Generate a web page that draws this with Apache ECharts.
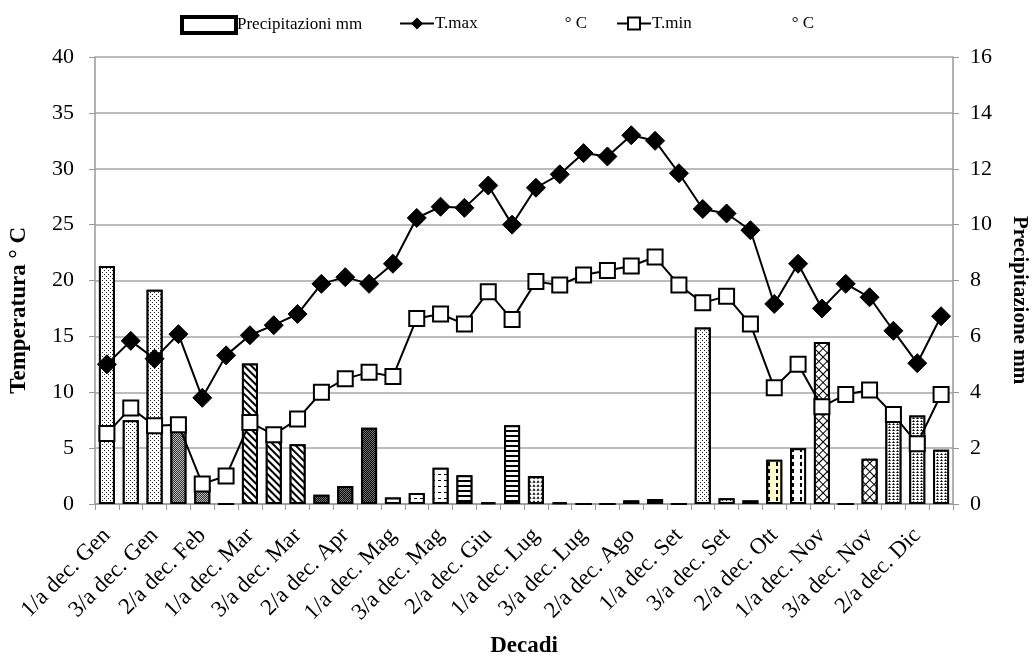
<!DOCTYPE html>
<html><head><meta charset="utf-8">
<script src="https://cdn.jsdelivr.net/npm/echarts@6/dist/echarts.min.js"></script>
<style>html,body{margin:0;padding:0;background:#fff}#c{width:1036px;height:663px}</style>
</head><body><div id="c"></div>
<script>
var months = ['Gen','Feb','Mar','Apr','Mag','Giu','Lug','Ago','Set','Ott','Nov','Dic'];
var categories = [];
months.forEach(function(m){ ['1/a','2/a','3/a'].forEach(function(d){ categories.push(d + ' dec. ' + m); }); });

var tmax = [12.5,14.6,13.0,15.2,9.5,13.3,15.1,16.0,17.0,19.7,20.3,19.7,21.5,25.6,26.6,26.5,28.5,25.0,28.3,29.5,31.4,31.1,33.0,32.5,29.6,26.4,26.0,24.5,17.9,21.5,17.5,19.7,18.5,15.5,12.6,16.8];
var tmin = [6.3,8.6,7.0,7.1,1.8,2.5,7.3,6.2,7.6,10.0,11.2,11.8,11.4,16.6,17.0,16.1,19.0,16.5,19.9,19.6,20.5,20.9,21.3,22.1,19.6,18.0,18.6,16.1,10.4,12.5,8.7,9.8,10.2,8.0,5.4,9.8];
var precip = [8.52,3.0,7.67,2.79,0.6,0,5.03,2.26,2.14,0.33,0.64,2.73,0.23,0.39,1.3,1.03,0.06,2.82,1.0,0.06,0,0,0.13,0.18,0,6.32,0.21,0.13,1.58,2.0,5.8,0,1.62,3.23,3.17,1.94];

var leftTicks = {min:0, max:40, interval:5};
var rightTicks = {min:0, max:16, interval:2};

var FONT = '"Liberation Serif","Times New Roman",serif';
var CLEAR = 'rgba(0,0,0,0)';

var decals = {
  dots: {symbol:'rect', symbolSize:1, dashArrayX:[[1,3],[0,2,1,1]], dashArrayY:[1,1], color:'#222', backgroundColor:'#fff'},
  dense:{symbol:'rect', symbolSize:1, dashArrayX:[[1,1],[0,1,1,0]], dashArrayY:[1,0], color:'#333', backgroundColor:'#bbb'},
  diag: {symbol:'rect', symbolSize:1, dashArrayX:[1,0], dashArrayY:[1.5,2.5], rotation:Math.PI/4, color:'#000', backgroundColor:'#fff'},
  darkdots:{symbol:'rect', symbolSize:1, dashArrayX:[[1,1],[0,1,1,0]], dashArrayY:[1,0], color:'#000', backgroundColor:'#777'},
  hdash:{symbol:'rect', symbolSize:1, dashArrayX:[3,3], dashArrayY:[1,5], color:'#000', backgroundColor:'#fff'},
  hline:{symbol:'rect', symbolSize:1, dashArrayX:[1,0], dashArrayY:[1.5,3], color:'#000', backgroundColor:'#fff'},
  chevron:{symbol:'triangle', symbolSize:0.8, dashArrayX:[4,0], dashArrayY:[3,1], color:'#000', backgroundColor:'#fff'},
  vdash:{symbol:'rect', symbolSize:1, dashArrayX:[1.5,6], dashArrayY:[4,3], color:'#000', backgroundColor:'#fffccc'},
  vdashW:{symbol:'rect', symbolSize:1, dashArrayX:[1.5,6], dashArrayY:[4,3], color:'#000', backgroundColor:'#fff'},
  cross:{symbol:'rect', symbolSize:1, dashArrayX:[1,0], dashArrayY:[1,4.5], rotation:Math.PI/4, color:'#000', backgroundColor:'#fff'},
  cross2:{symbol:'rect', symbolSize:1, dashArrayX:[1,0], dashArrayY:[1,4.5], rotation:-Math.PI/4, color:'#000', backgroundColor:CLEAR},
  zigzag:{symbol:'triangle', symbolSize:1, dashArrayX:[3,1], dashArrayY:[2,1], color:'#000', backgroundColor:'#fff'}
};
var monthDecal = ['dots','dense','diag','darkdots','hdash','hline','chevron','hline','dots','vdash','cross','zigzag'];

var barData = precip.map(function(v,i){
  var m = Math.floor(i/3);
  var key = monthDecal[m];
  if (i===29) key = 'vdashW';
  return {value:v, itemStyle:{color: i===28 ? '#fffccc' : '#fff', borderColor:'#000', borderWidth:2, decal: decals[key]}};
});
// second hatch direction for cross-hatched (November) bars
var hatchData = precip.map(function(v,i){
  return Math.floor(i/3) === 10 ? {value:v, itemStyle:{color:CLEAR, borderWidth:0, decal:decals.cross2}} : '-';
});

var chart = echarts.init(document.getElementById('c'), null, {renderer:'canvas'});
var nameTmax = 'T.max ° C';
var nameTmin = 'T.min ° C';
function legendFmt(name){
  var p = name.split(' ');
  return '{n|' + p[0] + '}{u|' + p.slice(1).join(' ') + '}';
}
var legendText = {fontFamily:FONT, fontSize:17, color:'#000', padding:[0,0,0,-4],
  rich:{n:{fontFamily:FONT, fontSize:17, color:'#000'}, u:{fontFamily:FONT, fontSize:17, color:'#000', padding:[0,0,0,87]}}};
chart.setOption({
  animation:false,
  backgroundColor:'#fff',
  textStyle:{fontFamily:FONT},
  legend:[
    {data:[{name:'Precipitazioni mm', icon:'rect', itemStyle:{color:'#fff', borderColor:'#000', borderWidth:4, decal:'none'}}], left:175, top:10, itemWidth:54, itemHeight:16,
     textStyle:{fontFamily:FONT, fontSize:17, color:'#000', padding:[0,0,0,-4]}},
    {data:[nameTmax], left:394, top:10, itemWidth:34, itemHeight:15, formatter:legendFmt, textStyle:legendText},
    {data:[nameTmin], left:611, top:10, itemWidth:34, itemHeight:15, formatter:legendFmt,
     textStyle:Object.assign({}, legendText, {rich:{n:legendText.rich.n, u:{fontFamily:FONT, fontSize:17, color:'#000', padding:[0,0,0,100]}}})}
  ],
  graphic:[
    {type:'text', left:8, top:227, rotation:Math.PI/2, style:{text:'Temperatura ° C', font:'bold 23px ' + FONT, fill:'#000'}, silent:true},
    {type:'text', x:1030, y:216, rotation:-Math.PI/2, style:{text:'Precipitazione mm', font:'bold 21px ' + FONT, fill:'#000'}, silent:true}
  ],
  grid:{left:95, right:83, top:57, bottom:150, containLabel:false},
  xAxis:{type:'category', data:categories, boundaryGap:true,
    name:'Decadi', nameLocation:'middle', nameGap:131,
    nameTextStyle:{fontFamily:FONT, fontSize:23, fontWeight:'bold', color:'#000'},
    axisLine:{lineStyle:{color:'#999', width:1.5}},
    axisTick:{show:true, alignWithLabel:false, interval:0, length:6, lineStyle:{color:'#999'}},
    axisLabel:{interval:1, rotate:45, fontFamily:FONT, fontSize:23, color:'#000', margin:28}
  },
  yAxis:[
    {type:'value', min:leftTicks.min, max:leftTicks.max, interval:leftTicks.interval, position:'left',
     axisLine:{show:true, lineStyle:{color:'#999', width:1.5}},
     axisTick:{show:true, length:6, lineStyle:{color:'#999'}},
     axisLabel:{fontFamily:FONT, fontSize:22, color:'#000', margin:21},
     splitLine:{show:true, lineStyle:{color:'#a6a6a6', width:1.5}}},
    {type:'value', min:rightTicks.min, max:rightTicks.max, interval:rightTicks.interval, position:'right',
     axisLine:{show:true, lineStyle:{color:'#999', width:1.5}},
     axisTick:{show:true, length:6, lineStyle:{color:'#999'}},
     axisLabel:{fontFamily:FONT, fontSize:22, color:'#000', margin:17},
     splitLine:{show:false}}
  ],
  series:[
    {name:'Precipitazioni mm', type:'bar', yAxisIndex:1, data:barData, barWidth:16, barGap:'-100%', z:2},
    {name:'hatch', type:'bar', yAxisIndex:1, data:hatchData, barWidth:16, barGap:'-100%', z:2, silent:true},
    {name:nameTmax, type:'line', yAxisIndex:0, data:tmax, symbol:'diamond', symbolSize:19, showAllSymbol:true,
     itemStyle:{color:'#000', borderColor:'#000'}, lineStyle:{color:'#000', width:2}, z:4},
    {name:nameTmin, type:'line', yAxisIndex:0, data:tmin, symbol:'rect', symbolSize:15, showAllSymbol:true,
     itemStyle:{color:'#fff', borderColor:'#000', borderWidth:2}, lineStyle:{color:'#000', width:2}, z:3}
  ]
});
</script></body></html>
